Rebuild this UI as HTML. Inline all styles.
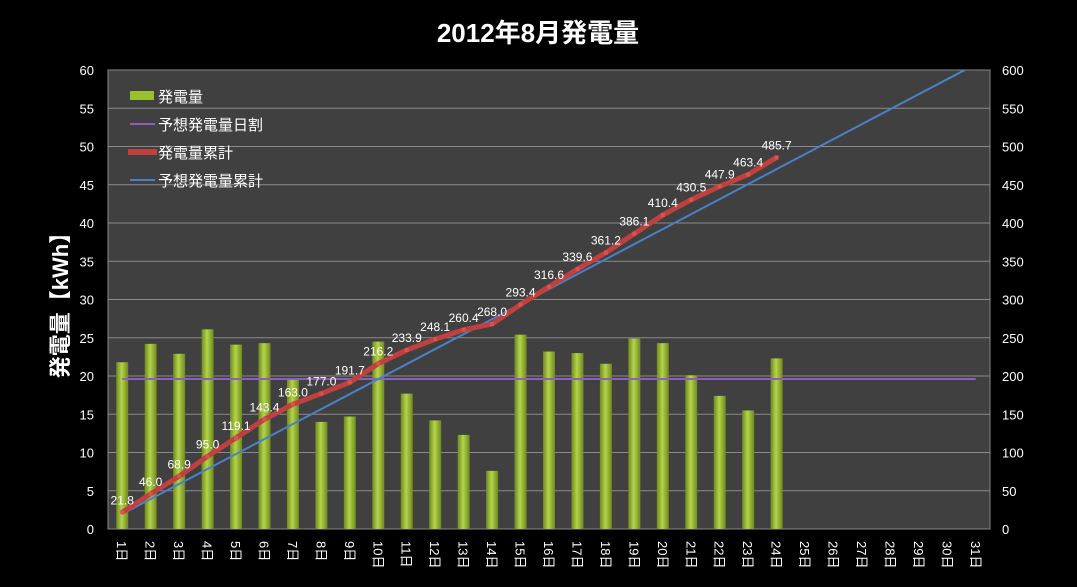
<!DOCTYPE html>
<html><head><meta charset="utf-8"><style>
body{margin:0;background:#000;width:1077px;height:582px;overflow:hidden;font-family:"Liberation Sans","Noto Sans CJK JP",sans-serif}
</style></head><body>
<svg id="c" width="1077" height="582" xmlns="http://www.w3.org/2000/svg">
<defs>
<linearGradient id="bg" x1="0" x2="1"><stop offset="0" stop-color="#6e8a1e"/><stop offset="0.45" stop-color="#b5d34a"/><stop offset="1" stop-color="#6e8a1e"/></linearGradient>
<clipPath id="clip"><rect x="108" y="70" width="882" height="459"/></clipPath>
</defs>
<text x="538" y="42" fill="#fff" font-size="26" font-weight="bold" text-anchor="middle">2012年8月発電量</text>
<rect x="108" y="70" width="882" height="459" fill="#404040" stroke="#888"/>
<g id="g"></g>
<text transform="translate(68,300) rotate(-90)" fill="#fff" font-size="22" font-weight="bold" text-anchor="middle">発電量【kWh】</text>
</svg>
<script>
const categories=[];for(let i=1;i<=31;i++)categories.push(i+'日');
const daily=[21.8,24.2,22.9,26.1,24.1,24.3,19.6,14.0,14.7,24.5,17.7,14.2,12.3,7.6,25.4,23.2,23.0,21.6,24.9,24.3,20.1,17.4,15.5,22.3];
const cumulative=[21.8,46.0,68.9,95.0,119.1,143.4,163.0,177.0,191.7,216.2,233.9,248.1,260.4,268.0,293.4,316.6,339.6,361.2,386.1,410.4,430.5,447.9,463.4,485.7];
const plannedDaily=19.6;
const leftTicks=[0,5,10,15,20,25,30,35,40,45,50,55,60];
const rightTicks=[0,50,100,150,200,250,300,350,400,450,500,550,600];
const X0=108,X1=990,Y0=529,Y1=70,n=categories.length,cw=(X1-X0)/n;
const x=i=>X0+cw*(i+0.5);
const yL=v=>Y0-(v/60)*(Y0-Y1);
const yR=v=>Y0-(v/600)*(Y0-Y1);
const g=document.getElementById('g');
const NS='http://www.w3.org/2000/svg';
function mk(t,a,p){const e=document.createElementNS(NS,t);for(const k in a)e.setAttribute(k,a[k]);(p||g).appendChild(e);return e;}
leftTicks.forEach((v,i)=>{
 if(v>0&&v<60){const l=mk('line',{x1:X0,x2:X1,y1:yL(v),y2:yL(v),stroke:'#8a8a8a','stroke-width':1});
 
 }
 const t=mk('text',{x:X0-14,y:yL(v)+5,fill:'#fff','font-size':13,'text-anchor':'end'});t.textContent=v;
 
 
});
rightTicks.forEach(v=>{
 const t=mk('text',{x:X1+12,y:yR(v)+5,fill:'#fff','font-size':13});t.textContent=v;
 
 
});
categories.forEach((c,i)=>{
 const t=mk('text',{transform:`translate(${x(i)-5},${Y0+12}) rotate(90)`,fill:'#fff','font-size':13});t.textContent=c;
 
 
});
daily.forEach((v,i)=>{
 const r=mk('rect',{x:x(i)-6,y:yL(v),width:12,height:Y0-yL(v),fill:'url(#bg)'});
 
 
});
const pd=mk('line',{x1:x(0),x2:x(n-1),y1:yL(plannedDaily),y2:yL(plannedDaily),stroke:'#8a5fc0','stroke-width':2});


let pc='';categories.forEach((c,i)=>{pc+=(i?'L':'M')+x(i)+','+yR(plannedDaily*(i+1));});
const pcl=mk('path',{d:pc,stroke:'#4a80c8','stroke-width':2,fill:'none','clip-path':'url(#clip)'});


let cp='';cumulative.forEach((v,i)=>{cp+=(i?'L':'M')+x(i)+','+yR(v);});
const cl=mk('path',{d:cp,stroke:'#c04040','stroke-width':5,fill:'none'});


cumulative.forEach((v,i)=>{
 const m=mk('rect',{x:x(i)-2,y:yR(v)-2,width:4,height:4,fill:'#e05050'});
 
 
 const t=mk('text',{x:x(i),y:yR(v)-8,fill:'#fff','font-size':12,'text-anchor':'middle'});t.textContent=v.toFixed(1);
 
 
});
const leg=[['発電量','bar'],['予想発電量日割','#8a5fc0'],['発電量累計','red'],['予想発電量累計','#4a80c8']];
leg.forEach((e,i)=>{
 const yy=96+i*28;
 if(e[1]=='bar')mk('rect',{x:130,y:yy-5,width:24,height:9,fill:'#9cbf30'});
 else if(e[1]=='red')mk('rect',{x:128,y:yy-3,width:29,height:6,fill:'#c04040'});
 else mk('line',{x1:130,x2:155,y1:yy,y2:yy,stroke:e[1],'stroke-width':2});
 const t=mk('text',{x:158,y:yy+6,fill:'#fff','font-size':15});t.textContent=e[0];
 
 
});
</script>
</body></html>
